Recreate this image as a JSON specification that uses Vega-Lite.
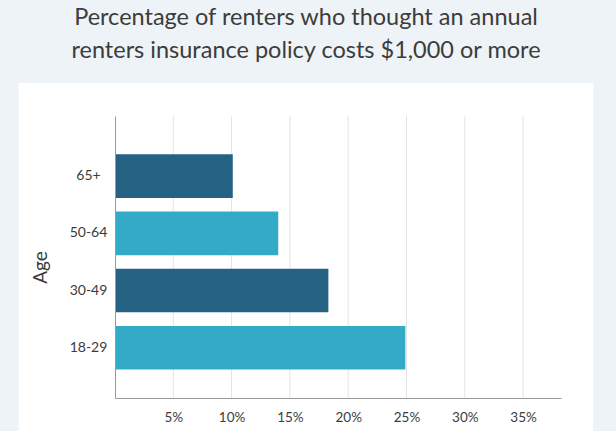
{
  "$schema": "https://vega.github.io/schema/vega-lite/v6.json",
  "width": 446,
  "height": 282,
  "padding": {"left": 18, "right": 23, "top": 5, "bottom": 0},
  "background": "#eef3f7",
  "config": {"view": {"stroke": null}, "font": "Lato"},
  "title": {
    "text": ["Percentage of renters who thought an annual", "renters insurance policy costs $1,000 or more"],
    "font": "Lato",
    "fontSize": 23.5,
    "fontWeight": "normal",
    "color": "#3c3c3c",
    "anchor": "middle",
    "frame": "bounds",
    "lineHeight": 33,
    "offset": 21
  },
  "data": {
    "values": [
      {"age": "65+", "pct": 10.1},
      {"age": "50-64", "pct": 14.0},
      {"age": "30-49", "pct": 18.3},
      {"age": "18-29", "pct": 24.9}
    ]
  },
  "resolve": {"scale": {"y": "independent"}},
  "layer": [
    {
      "data": {"values": [{}]},
      "mark": {"type": "rect", "color": "#ffffff"},
      "encoding": {
        "x": {
          "datum": -8.26,
          "type": "quantitative",
          "scale": {"domain": [0, 38.25], "nice": false, "zero": false},
          "axis": {
            "title": null,
            "values": [5, 10, 15, 20, 25, 30, 35],
            "labelExpr": "datum.value + '%'",
            "labelFont": "Lato",
            "labelFontSize": 13.5,
            "labelColor": "#3c3c3c",
            "labelPadding": 12,
            "ticks": false,
            "tickSize": 0,
            "domainColor": "#9a9a9a",
            "domainWidth": 1,
            "grid": false,
            "zindex": 1
          }
        },
        "x2": {"datum": 41.02},
        "y": {"datum": 315, "type": "quantitative", "scale": {"domain": [0, 282], "nice": false, "zero": false}, "axis": null},
        "y2": {"datum": -33}
      }
    },
    {
      "data": {"values": [{"v": 5}, {"v": 10}, {"v": 15}, {"v": 20}, {"v": 25}, {"v": 30}, {"v": 35}]},
      "mark": {"type": "rule", "color": "#e3e3e3", "strokeWidth": 1},
      "encoding": {
        "x": {"field": "v", "type": "quantitative", "scale": {"domain": [0, 38.25], "nice": false, "zero": false}}
      }
    },
    {
      "mark": {"type": "bar"},
      "encoding": {
        "y": {
          "field": "age",
          "type": "nominal",
          "sort": ["65+", "50-64", "30-49", "18-29"],
          "scale": {"paddingInner": 0.238, "paddingOuter": 0.583, "align": 0.574},
          "axis": {
            "title": "Age",
            "titleFont": "Lato",
            "titleFontSize": 19,
            "titleFontWeight": "normal",
            "titleColor": "#3c3c3c",
            "titlePadding": 19,
            "titleY": 151,
            "labelFont": "Lato",
            "labelFontSize": 14,
            "labelColor": "#3c3c3c",
            "labelAlign": "center",
            "labelPadding": 27,
            "ticks": false,
            "tickSize": 0,
            "domainColor": "#9a9a9a",
            "domainWidth": 1,
            "grid": false,
            "zindex": 1
          }
        },
        "x": {
          "field": "pct",
          "type": "quantitative",
          "scale": {"domain": [0, 38.25], "nice": false, "zero": false}
        },
        "color": {
          "field": "age",
          "type": "nominal",
          "scale": {"domain": ["65+", "50-64", "30-49", "18-29"], "range": ["#256283", "#34abc6", "#256283", "#34abc6"]},
          "legend": null
        }
      }
    }
  ]
}
